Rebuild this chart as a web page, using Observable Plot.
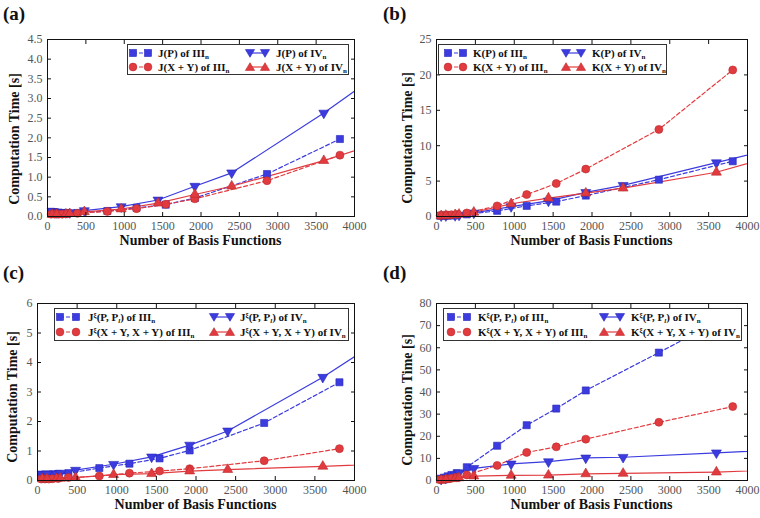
<!DOCTYPE html>
<html><head><meta charset="utf-8">
<script src="https://cdn.jsdelivr.net/npm/d3@7"></script>
<script src="https://cdn.jsdelivr.net/npm/@observablehq/plot@0.6"></script>
<style>
body{margin:0;background:#fff;}
#root{position:relative;width:760px;height:518px;overflow:hidden;font-family:"Liberation Serif","DejaVu Serif",serif;color:#111;}
.panel{position:absolute;width:380px;height:259px;}
.panel svg{position:absolute;left:0;top:0;}
.plabel{position:absolute;font-weight:bold;font-size:19px;line-height:1;}
.xlabel{position:absolute;font-weight:bold;font-size:14px;white-space:nowrap;transform:translate(-50%,-50%);line-height:1;}
.ylabel{position:absolute;font-weight:bold;font-size:14px;white-space:nowrap;transform:translate(-50%,-50%) rotate(-90deg);line-height:1;}
.legend{position:absolute;background:#fff;border:1px solid #333;box-sizing:border-box;}
.entry{position:absolute;font-size:11px;font-weight:bold;white-space:nowrap;line-height:1;transform:translateY(-50%);}
.entry .sb{font-size:7px;position:relative;top:2px;}
.entry .sp{font-size:7px;position:relative;top:-4px;}
.sample{position:absolute;}
</style>
</head><body><div id="root"></div>
<script>
// ---------- data ----------
const xIII = [48, 96, 144, 192, 260, 390, 780, 1160, 1540, 1920, 2860, 3810];
const xIV  = [60, 120, 240, 290, 480, 960, 1440, 1920, 2400, 3600, 4800];

// (a) J
const aBlueIII = [0.12, 0.11, 0.10, 0.09, 0.09, 0.09, 0.14, 0.22, 0.30, 0.47, 1.08, 1.97];
const aBlueIV  = [0.13, 0.10, 0.10, 0.10, 0.15, 0.25, 0.42, 0.77, 1.11, 2.63, 4.30];
const aRedIII  = [0.06, 0.06, 0.06, 0.06, 0.07, 0.08, 0.13, 0.20, 0.31, 0.45, 0.91, 1.56];
const aRedIV   = [0.05, 0.05, 0.06, 0.07, 0.12, 0.19, 0.34, 0.56, 0.77, 1.42, 2.17];
// (b) K
const bBlueIII = [0.10, 0.10, 0.12, 0.14, 0.17, 0.30, 0.80, 1.50, 2.10, 2.95, 5.20, 7.80];
const bBlueIV  = [0.10, 0.12, 0.15, 0.20, 0.50, 1.40, 2.20, 3.40, 4.40, 7.60, 10.90];
const bRedIII  = [0.15, 0.18, 0.20, 0.25, 0.30, 0.50, 1.50, 3.10, 4.66, 6.70, 12.30, 20.70];
const bRedIV   = [0.10, 0.15, 0.25, 0.30, 0.60, 1.80, 2.60, 3.30, 4.00, 6.25, 10.00];
// (c) J^xi
const cBlueIII = [0.20, 0.20, 0.20, 0.21, 0.22, 0.25, 0.42, 0.57, 0.75, 1.02, 1.95, 3.33];
const cBlueIV  = [0.20, 0.22, 0.22, 0.25, 0.35, 0.55, 0.80, 1.20, 1.68, 3.50, 5.60];
const cRedIII  = [0.05, 0.05, 0.05, 0.06, 0.07, 0.10, 0.15, 0.25, 0.32, 0.40, 0.67, 1.08];
const cRedIV   = [0.05, 0.05, 0.06, 0.07, 0.10, 0.20, 0.23, 0.32, 0.37, 0.48, 0.60];
// (d) K^xi
const dBlueIII = [0.8, 1.3, 1.9, 2.5, 3.3, 6.0, 15.7, 25.0, 32.5, 40.7, 57.8, 75.5];
const dBlueIV  = [0.6, 1.0, 2.5, 3.5, 5.5, 7.5, 8.5, 10.2, 10.5, 12.5, 14.6];
const dRedIII  = [0.3, 0.5, 0.7, 1.0, 1.3, 2.5, 6.8, 12.7, 15.2, 18.7, 26.3, 33.4];
const dRedIV   = [0.2, 0.4, 0.8, 1.2, 2.0, 2.3, 2.4, 3.0, 3.2, 3.8, 5.3];

const xTicks = [0, 500, 1000, 1500, 2000, 2500, 3000, 3500, 4000];
const aYTicks = [0, 0.5, 1, 1.5, 2, 2.5, 3, 3.5, 4, 4.5];
const bYTicks = [0, 5, 10, 15, 20, 25];
const cYTicks = [0, 1, 2, 3, 4, 5, 6];
const dYTicks = [0, 10, 20, 30, 40, 50, 60, 70, 80];

const sb = (t) => `<span class="sb">${t}</span>`;
const sp = (t) => `<span class="sp">${t}</span>`;
const aLabels = [`J(P) of III${sb("n")}`, `J(P) of IV${sb("n")}`, `J(X + Y) of III${sb("n")}`, `J(X + Y) of IV${sb("n")}`];
const bLabels = [`K(P) of III${sb("n")}`, `K(P) of IV${sb("n")}`, `K(X + Y) of III${sb("n")}`, `K(X + Y) of IV${sb("n")}`];
const cLabels = [`J${sp("ξ")}(P, P${sb("<i>l</i>")}) of III${sb("n")}`, `J${sp("ξ")}(P, P${sb("<i>l</i>")}) of IV${sb("n")}`, `J${sp("ξ")}(X + Y, X + Y) of III${sb("n")}`, `J${sp("ξ")}(X + Y, X + Y) of IV${sb("n")}`];
const dLabels = [`K${sp("ξ")}(P, P${sb("<i>l</i>")}) of III${sb("n")}`, `K${sp("ξ")}(P, P${sb("<i>l</i>")}) of IV${sb("n")}`, `K${sp("ξ")}(X + Y, X + Y) of III${sb("n")}`, `K${sp("ξ")}(X + Y, X + Y) of IV${sb("n")}`];

const BLUE = "#3b3bdf", RED = "#e23b3f";
const BLUE_D = "#2626b8", RED_D = "#b82a2e";

const styles = [
  {c: BLUE, d: BLUE_D, dash: true, sym: "square", rot: 0, r: 4},
  {c: BLUE, d: BLUE_D, dash: false, sym: "triangle", rot: 180, r: 3.7},
  {c: RED, d: RED_D, dash: true, sym: "circle", rot: 0, r: 4},
  {c: RED, d: RED_D, dash: false, sym: "triangle", rot: 0, r: 3.7}
];

const panels = [
  {id: "(a)", left: 0, top: 0, m: [39, 26, 43, 47], ymax: 4.5, yTicks: aYTicks, fmt: d3.format(".1f"), ylx: 15, yly: 139,
   series: [[xIII, aBlueIII], [xIV, aBlueIV], [xIII, aRedIII], [xIV, aRedIV]], labels: aLabels,
   lg: {x: 127, y: 44, w: 222, h: 31, r1: 8, r2: 22, c1: 5, t1: 30, c2: 122, t2: 148, sw: 15}},
  {id: "(b)", left: 380, top: 0, m: [39, 13, 43, 56], ymax: 25, yTicks: bYTicks, fmt: d3.format("d"), ylx: 28, yly: 138,
   series: [[xIII, bBlueIII], [xIV, bBlueIV], [xIII, bRedIII], [xIV, bRedIV]], labels: bLabels,
   lg: {x: 58, y: 44, w: 229, h: 31, r1: 8, r2: 22, c1: 9, t1: 34, c2: 127, t2: 153, sw: 15}},
  {id: "(c)", left: 0, top: 259, m: [44, 26, 38, 37], ymax: 6, yTicks: cYTicks, fmt: d3.format("d"), ylx: 13, yly: 138,
   series: [[xIII, cBlueIII], [xIV, cBlueIV], [xIII, cRedIII], [xIV, cRedIV]], labels: cLabels,
   lg: {x: 54, y: 49, w: 295, h: 33, r1: 8, r2: 23, c1: 5, t1: 33, c2: 159, t2: 185, sw: 16}},
  {id: "(d)", left: 380, top: 259, m: [44, 13, 38, 56], ymax: 80, yTicks: dYTicks, fmt: d3.format("d"), ylx: 28, yly: 141,
   series: [[xIII, dBlueIII], [xIV, dBlueIV], [xIII, dRedIII], [xIV, dRedIV]], labels: dLabels,
   lg: {x: 63, y: 49, w: 299, h: 33, r1: 8, r2: 23, c1: 7, t1: 34, c2: 160, t2: 187, sw: 16}}
];

const root = document.getElementById("root");

function sampleSVG(st, w) {
  const h = 10, cy = 5;
  const dash = st.dash ? 'stroke-dasharray="4,2"' : '';
  const mk = (cx) => {
    if (st.sym === "square") return `<rect x="${cx-3.5}" y="${cy-3.5}" width="7" height="7" fill="${st.c}" stroke="${st.d}" stroke-width="0.6"/>`;
    if (st.sym === "circle") return `<circle cx="${cx}" cy="${cy}" r="3.9" fill="${st.c}" stroke="${st.d}" stroke-width="0.6"/>`;
    const s = st.rot ? -1 : 1;
    return `<path d="M${cx},${cy - 4.3*s} L${cx+4.6},${cy + 3.4*s} L${cx-4.6},${cy + 3.4*s}Z" fill="${st.c}" stroke="${st.d}" stroke-width="0.6"/>`;
  };
  return `<svg width="${w+10}" height="${h}" style="overflow:visible"><line x1="5" y1="${cy}" x2="${w+5}" y2="${cy}" stroke="${st.c}" stroke-width="1.2" ${dash}/>${mk(5)}${mk(w+5)}</svg>`;
}

for (const p of panels) {
  const div = document.createElement("div");
  div.className = "panel";
  div.style.left = p.left + "px";
  div.style.top = p.top + "px";
  const [mt, mr, mb, ml] = p.m;
  const marks = [];
  p.series.forEach(([xs, ys], i) => {
    const st = styles[i];
    const data = ys.map((y, j) => ({x: xs[j], y}));
    marks.push(Plot.line(data, {x: "x", y: "y", stroke: st.c, strokeWidth: 1.2, strokeDasharray: st.dash ? "4,2.5" : null, clip: true}));
  });
  p.series.forEach(([xs, ys], i) => {
    const st = styles[i];
    const data = ys.map((y, j) => ({x: xs[j], y})).filter(d => d.x <= 4000 && d.y <= p.ymax);
    marks.push(Plot.dot(data, {x: "x", y: "y", symbol: st.sym, r: st.r, fill: st.c, stroke: st.d, strokeWidth: 0.6, rotate: st.rot}));
  });
  marks.push(
    Plot.frame({stroke: "#111", strokeWidth: 1}),
    Plot.axisX({ticks: xTicks, tickSize: -4, tickPadding: 9, label: null, tickFormat: d3.format("d"), stroke: "#111", fill: "#555"}),
    Plot.axisX({anchor: "top", ticks: xTicks, tickSize: -4, label: null, tickFormat: () => "", stroke: "#111"}),
    Plot.axisY({ticks: p.yTicks, tickSize: -4, tickPadding: 9, label: null, tickFormat: p.fmt, stroke: "#111", fill: "#555"}),
    Plot.axisY({anchor: "right", ticks: p.yTicks, tickSize: -4, label: null, tickFormat: () => "", stroke: "#111"})
  );
  const svg = Plot.plot({
    width: 380, height: 259,
    marginTop: mt, marginRight: mr, marginBottom: mb, marginLeft: ml,
    x: {domain: [0, 4000]},
    y: {domain: [0, p.ymax]},
    style: {fontFamily: '"Liberation Serif", serif', fontSize: "12px", background: "transparent"},
    marks
  });
  div.appendChild(svg);

  const pl = document.createElement("div");
  pl.className = "plabel";
  pl.textContent = p.id;
  pl.style.left = "3px"; pl.style.top = "4px";
  div.appendChild(pl);

  const xl = document.createElement("div");
  xl.className = "xlabel";
  xl.textContent = "Number of Basis Functions";
  xl.style.left = (ml + (380 - ml - mr) / 2) + "px";
  xl.style.top = (259 - mb + 25) + "px";
  div.appendChild(xl);
  const yl = document.createElement("div");
  yl.className = "ylabel";
  yl.textContent = "Computation Time [s]";
  yl.style.left = p.ylx + "px";
  yl.style.top = p.yly + "px";
  div.appendChild(yl);

  const L = p.lg;
  const lg = document.createElement("div");
  lg.className = "legend";
  lg.style.left = L.x + "px"; lg.style.top = L.y + "px";
  lg.style.width = L.w + "px"; lg.style.height = L.h + "px";
  const pos = [[L.c1, L.t1, L.r1], [L.c2, L.t2, L.r1], [L.c1, L.t1, L.r2], [L.c2, L.t2, L.r2]];
  pos.forEach(([cx, tx, ry], i) => {
    const s = document.createElement("div");
    s.className = "sample";
    s.style.left = (cx - 5) + "px"; s.style.top = (ry - 5) + "px";
    s.innerHTML = sampleSVG(styles[i], L.sw);
    lg.appendChild(s);
    const e = document.createElement("div");
    e.className = "entry";
    e.style.left = tx + "px"; e.style.top = ry + "px";
    e.innerHTML = p.labels[i];
    lg.appendChild(e);
  });
  div.appendChild(lg);
  root.appendChild(div);
}
</script>
</body></html>
